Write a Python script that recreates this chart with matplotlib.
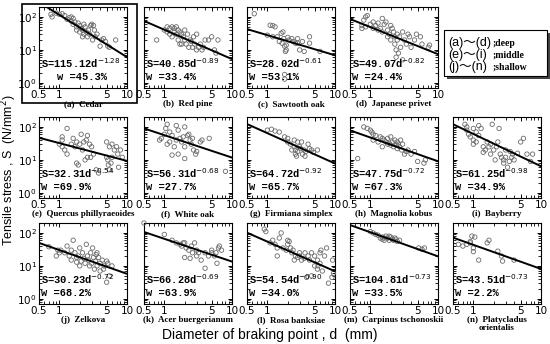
import numpy as np
import matplotlib
matplotlib.use("Agg")
import matplotlib.pyplot as plt
from matplotlib.patches import Rectangle
from matplotlib.ticker import FixedLocator, NullFormatter, LogLocator

# panel labels and fitted power laws S = a * d^-b
letters = ['a', 'b', 'c', 'd', 'e', 'f', 'g', 'h', 'i', 'j', 'k', 'l', 'm', 'n']
names = ['Cedar', 'Red pine', 'Sawtooth oak', 'Japanese privet',
         'Quercus phillyraeoides', 'White oak', 'Firmiana simplex', 'Magnolia kobus', 'Bayberry',
         'Zelkova', 'Acer buergerianum', 'Rosa banksiae', 'Carpinus tschonoskii', 'Platycladus\norientalis']
coef_a = [115.12, 40.85, 28.02, 49.07, 32.31, 56.31, 64.72, 47.75, 61.25, 30.23, 66.28, 54.54, 104.81, 43.51]
coef_b = [1.28, 0.89, 0.61, 0.82, 0.54, 0.68, 0.92, 0.72, 0.98, 0.72, 0.69, 0.90, 0.73, 0.73]
w_pct = ['45.3', '33.4', '53.1', '24.4', '69.9', '27.7', '65.7', '67.3', '34.9', '68.2', '63.9', '34.0', '33.5', '2.2']

d_a = [0.75, 0.78, 0.9, 1.0, 1.1, 1.2, 1.3, 1.4, 1.5, 1.6, 1.6, 1.7, 1.8, 1.8, 1.9, 2.0, 2.0, 2.1, 2.2, 2.3, 2.3,
       2.4, 2.5, 2.6, 2.7, 2.8, 2.9, 3.0, 3.1, 3.2, 3.3, 3.4, 3.6, 4.0, 4.2, 4.5, 4.8, 5.2, 5.5, 6.8, 2.2, 1.5]
s_a = [120, 100, 130, 120, 125, 110, 85, 95, 75, 90, 60, 70, 50, 40, 65, 55, 35, 45, 40, 30, 60,
       50, 35, 25, 40, 30, 55, 60, 20, 55, 40, 25, 30, 13, 20, 22, 18, 13, 12, 20, 25, 100]
d_b = [0.77, 1.0, 1.1, 1.2, 1.2, 1.3, 1.3, 1.4, 1.4, 1.5, 1.5, 1.6, 1.6, 1.7, 1.8, 1.8, 1.9, 2.0, 2.0, 2.1, 2.2,
       2.3, 2.4, 2.5, 2.6, 2.7, 2.8, 3.0, 3.0, 3.2, 3.4, 3.6, 3.8, 4.0, 4.5, 5.0, 5.5, 5.8, 6.2, 1.1, 1.7]
s_b = [20, 40, 35, 45, 30, 50, 25, 45, 35, 50, 30, 40, 20, 35, 30, 15, 25, 40, 20, 15, 30,
       12, 20, 18, 12, 25, 15, 10, 30, 12, 15, 10, 12, 20, 20, 25, 10, 8, 20, 50, 15]
d_c = [0.64, 1.1, 1.2, 1.3, 1.0, 1.2, 1.4, 1.6, 1.7, 1.5, 1.65, 1.75, 1.8, 1.9, 2.0, 2.1, 2.3, 2.4, 2.6, 1.9,
       1.85, 1.8, 1.8, 2.8, 2.8, 3.0, 3.5, 3.3, 4.2, 4.2, 6.0]
s_c = [125, 56, 55, 50, 28, 25, 25, 32, 35, 18, 16, 22, 13, 14, 24, 20, 22, 18, 16, 10,
       9, 1.3, 1.8, 22, 16, 10, 9, 18, 25, 16, 9]
d_d = [0.8, 0.85, 0.9, 0.75, 0.75, 0.85, 1.0, 1.1, 1.1, 1.2, 1.3, 1.3, 1.4, 1.5, 1.6, 1.7, 1.8, 1.8, 1.9, 2.0,
       2.0, 2.1, 2.2, 2.3, 2.3, 2.4, 2.4, 2.5, 2.5, 2.6, 2.7, 2.8, 3.0, 3.0, 3.2, 3.4, 3.6, 3.8, 4.0, 4.5,
       4.8, 5.5, 5.8, 7.2, 7.5, 1.5]
s_d = [80, 100, 110, 55, 45, 50, 60, 70, 45, 55, 65, 40, 45, 35, 60, 70, 40, 25, 30, 55,
       20, 45, 35, 25, 15, 10, 6, 30, 20, 8, 25, 12, 5, 35, 20, 15, 30, 25, 12, 20,
       30, 25, 15, 12, 14, 90]
d_e = [1.3, 1.1, 1.1, 1.0, 1.1, 1.2, 1.3, 1.5, 1.6, 1.7, 1.8, 1.8, 1.9, 2.0, 2.1, 2.2, 2.3, 2.4, 2.5, 2.6,
       2.6, 2.8, 2.9, 3.0, 3.2, 3.5, 3.8, 5.0, 5.2, 5.3, 5.5, 5.5, 5.8, 6.0, 6.0, 6.5, 7.0, 7.3, 7.5, 8.0,
       8.5, 5.0]
s_e = [90, 50, 40, 30, 25, 20, 15, 30, 45, 25, 35, 8, 7, 30, 60, 20, 35, 10, 40, 55,
       12, 30, 12, 25, 15, 5, 4, 35, 10, 7, 5, 25, 8, 30, 12, 20, 25, 15, 6, 20,
       12, 12]
d_f = [0.85, 0.9, 1.0, 1.05, 1.1, 1.2, 1.2, 1.3, 1.3, 1.4, 1.5, 1.5, 1.6, 1.6, 1.7, 1.8, 1.9, 2.0, 2.0, 2.0,
       2.2, 2.3, 2.4, 2.5, 2.6, 2.7, 2.9, 3.0, 3.4, 3.6, 4.6, 8.0, 1.1]
s_f = [40, 45, 60, 90, 120, 70, 35, 55, 14, 25, 40, 110, 80, 15, 45, 35, 50, 100, 25, 11,
       55, 60, 40, 30, 45, 20, 15, 18, 35, 40, 45, 4.5, 30]
d_g = [1.0, 1.15, 1.3, 1.5, 1.8, 2.0, 2.0, 2.2, 2.3, 2.5, 2.5, 2.6, 2.6, 2.7, 2.8, 3.0, 3.1, 3.2, 3.3, 3.5,
       3.7, 4.0, 4.2, 4.5, 4.8, 5.5, 2.8, 3.6]
s_g = [80, 85, 75, 70, 50, 35, 45, 30, 20, 25, 40, 20, 15, 13, 18, 25, 22, 35, 15, 20,
       18, 30, 22, 20, 17, 20, 35, 13]
d_h = [0.65, 0.8, 0.9, 1.0, 1.05, 1.1, 1.1, 1.2, 1.3, 1.4, 1.5, 1.5, 1.6, 1.7, 1.8, 1.8, 1.9, 2.0, 2.1, 2.2,
       2.3, 2.4, 2.5, 2.5, 2.6, 2.7, 2.8, 2.9, 3.0, 3.2, 3.4, 3.6, 4.0, 4.5, 5.0, 6.2, 6.5, 2.0]
s_h = [11, 100, 90, 80, 70, 60, 40, 55, 35, 50, 45, 25, 40, 35, 30, 45, 32, 28, 35, 25,
       40, 28, 35, 22, 30, 25, 40, 20, 30, 15, 18, 20, 15, 18, 9, 8, 10, 50]
d_i = [0.75, 0.8, 0.8, 0.85, 0.9, 1.0, 1.0, 1.0, 1.1, 1.1, 1.2, 1.2, 1.3, 1.4, 1.4, 1.5, 1.6, 1.7, 1.8, 1.8,
       1.9, 2.0, 2.1, 2.2, 2.4, 2.5, 2.6, 2.8, 2.8, 3.0, 3.0, 3.2, 3.4, 3.5, 3.7, 3.8, 4.0, 4.5, 5.0, 5.5,
       6.2, 7.0, 7.5, 2.3]
s_i = [120, 100, 80, 60, 50, 90, 40, 30, 70, 35, 110, 55, 90, 25, 17, 20, 35, 25, 30, 15,
       120, 20, 10, 25, 90, 15, 12, 8, 10, 20, 12, 6, 9, 18, 12, 15, 10, 16, 35, 45,
       15, 9, 15, 35]
d_j = [0.7, 0.9, 0.95, 1.0, 1.05, 1.2, 1.3, 1.4, 1.5, 1.5, 1.6, 1.7, 1.8, 1.8, 1.9, 2.0, 2.0, 2.1, 2.2, 2.3,
       2.4, 2.5, 2.6, 2.7, 2.8, 2.9, 3.0, 3.1, 3.2, 3.3, 3.4, 3.5, 3.6, 3.8, 4.0, 4.0, 4.3, 4.5, 4.6, 5.0,
       5.2, 5.0, 5.5, 6.0, 3.6]
s_j = [38, 20, 30, 25, 30, 25, 40, 20, 30, 15, 60, 25, 13, 18, 20, 35, 10, 14, 25, 17,
       12, 45, 20, 15, 10, 25, 12, 35, 18, 8, 14, 22, 10, 18, 12, 7, 15, 8, 10, 14,
       12, 3.2, 5, 10, 25]
d_k = [0.5, 1.0, 1.3, 1.5, 1.7, 1.8, 1.9, 2.0, 2.0, 2.1, 2.3, 2.4, 2.5, 2.6, 2.8, 3.0, 3.0, 3.2, 3.5, 4.0,
       4.0, 4.5, 5.0, 5.0, 5.5, 6.0, 6.3, 6.5, 7.0, 5.8]
s_k = [200, 90, 60, 50, 45, 40, 50, 50, 18, 35, 30, 17, 40, 25, 50, 30, 20, 25, 15, 8.5,
       25, 20, 30, 25, 20, 12, 35, 40, 30, 25]
d_l = [0.9, 0.95, 1.1, 1.2, 1.3, 1.4, 1.5, 1.6, 1.4, 1.7, 1.9, 2.0, 2.0, 2.1, 2.2, 2.3, 2.4, 2.5, 2.6, 2.8,
       3.0, 3.0, 3.2, 3.5, 3.6, 4.0, 4.2, 4.5, 4.5, 5.0, 5.0, 5.5, 5.5, 5.6, 6.0, 6.0, 6.2, 6.5, 7.0, 7.5,
       8.0, 9.0, 9.5, 9.2, 3.8]
s_l = [130, 110, 50, 60, 45, 35, 70, 100, 20, 35, 30, 60, 45, 55, 35, 25, 30, 15, 20, 18,
       20, 25, 15, 17, 25, 20, 15, 25, 5, 20, 10, 15, 8, 10, 12, 25, 30, 7, 20, 35,
       3, 4.5, 6, 15, 4.5]
d_m = [1.0, 1.1, 1.2, 1.3, 1.4, 1.5, 1.5, 1.6, 1.7, 1.8, 1.9, 2.0, 2.1, 2.2, 2.3, 2.5, 2.7, 1.6, 1.9, 2.4,
       5.2, 5.8, 6.3]
s_m = [110, 100, 90, 85, 70, 65, 75, 60, 80, 70, 60, 75, 65, 60, 70, 55, 60, 70, 80, 65,
       35, 32, 35]
d_n = [0.6, 0.7, 0.8, 0.9, 0.95, 0.9, 1.0, 1.0, 1.05, 1.2, 1.6, 1.7, 2.3, 2.6, 2.7, 4.0]
s_n = [45, 40, 45, 55, 80, 50, 35, 27, 75, 15, 50, 60, 28, 20, 14, 15]

d_all = [d_a, d_b, d_c, d_d, d_e, d_f, d_g, d_h, d_i, d_j, d_k, d_l, d_m, d_n]
s_all = [s_a, s_b, s_c, s_d, s_e, s_f, s_g, s_h, s_i, s_j, s_k, s_l, s_m, s_n]

W, H = 550, 344
fig = plt.figure(figsize=(W / 100, H / 100), dpi=100)

col_left = [39, 144, 247, 350, 453]
row_top = [7, 117, 223]
ax_w, ax_h = 88, 81

# grid slots: first row has 4 panels, the 5th slot holds the legend box
slots = [(0, 0), (0, 1), (0, 2), (0, 3),
         (1, 0), (1, 1), (1, 2), (1, 3), (1, 4),
         (2, 0), (2, 1), (2, 2), (2, 3), (2, 4)]

mono = 'Liberation Mono'
serif = 'Liberation Serif'

for k, (r, c) in enumerate(slots):
    x0 = col_left[c] / W
    y0 = 1 - (row_top[r] + ax_h) / H
    ax = fig.add_axes([x0, y0, ax_w / W, ax_h / H])
    ax.set_xscale('log')
    ax.set_yscale('log')
    ax.set_xlim(0.5, 10)
    ax.set_ylim(0.7, 200)

    ax.scatter(d_all[k], s_all[k], s=10, facecolors='none', edgecolors='#6a6a6a',
               linewidths=0.6, clip_on=False, zorder=3)
    dl = np.array([0.5, 10])
    ax.plot(dl, coef_a[k] * dl ** (-coef_b[k]), color='black', lw=1.4, zorder=4)

    ax.xaxis.set_major_locator(FixedLocator([0.5, 1, 5, 10]))
    ax.set_xticklabels(['0.5', '1', '5', '10'])
    ax.xaxis.set_minor_locator(FixedLocator([0.6, 0.7, 0.8, 0.9, 2, 3, 4, 6, 7, 8, 9]))
    ax.xaxis.set_minor_formatter(NullFormatter())
    ax.yaxis.set_major_locator(FixedLocator([1, 10, 100]))
    ax.yaxis.set_minor_locator(LogLocator(base=10, subs=np.arange(2, 10)))
    ax.yaxis.set_minor_formatter(NullFormatter())
    ax.tick_params(which='both', direction='in', top=True, right=True, labelsize=7.5, pad=1.5)
    ax.tick_params(which='major', length=3, width=0.7)
    ax.tick_params(which='minor', length=2, width=0.6)
    if c != 0:
        ax.set_yticklabels([])
    for sp in ax.spines.values():
        sp.set_linewidth(0.8)

    eq = 'S=%.2fd$^{-%.2f}$' % (coef_a[k], coef_b[k])
    ax.text(0.02, 0.31, eq, transform=ax.transAxes, fontsize=7.5, family=mono,
            fontweight='bold', va='center', ha='left', zorder=5)
    wx = 0.2 if k == 0 else 0.02
    ax.text(wx, 0.13, 'w =' + w_pct[k] + '%', transform=ax.transAxes, fontsize=7.5,
            family=mono, fontweight='bold', va='center', ha='left', zorder=5)

    ax.text(0.5, -0.15, '(' + letters[k] + ')  ' + names[k], transform=ax.transAxes,
            fontsize=6.5, family=serif, fontweight='bold', ha='center', va='top',
            linespacing=1.0)

# frame around panel (a)
fig.add_artist(Rectangle((22 / W, 1 - 103 / H), 115 / W, 99 / H, transform=fig.transFigure,
                         fill=False, edgecolor='black', lw=1.2))

# legend box with shadow
lx, ly, lw_, lh = 444, 30, 103, 46
fig.add_artist(Rectangle(((lx + 3) / W, 1 - (ly + lh + 3) / H), lw_ / W, lh / H,
                         transform=fig.transFigure, facecolor='#444444', edgecolor='none'))
fig.add_artist(Rectangle((lx / W, 1 - (ly + lh) / H), lw_ / W, lh / H, transform=fig.transFigure,
                         facecolor='white', edgecolor='black', lw=0.8))
groups = ['(a)〜(d)', '(e)〜(i)', '(j)〜(n)']
depths = [';deep', ';middle', ';shallow']
for i in range(3):
    yy = 1 - (43 + i * 12) / H
    fig.text((lx + 4) / W, yy, groups[i], fontsize=9, family=['Liberation Sans', 'Noto Sans CJK JP'],
             va='center', ha='left')
    fig.text((lx + 48) / W, yy, depths[i], fontsize=7, family=serif, fontweight='bold',
             va='center', ha='left')

fig.text(9 / W, 1 - 170 / H, 'Tensile stress , S  (N/mm$^2$)', rotation=90, fontsize=9,
         family='Liberation Sans', ha='center', va='center')
fig.text(270 / W, 1 - 335 / H, 'Diameter of braking point , d  (mm)', fontsize=10,
         family='Liberation Sans', ha='center', va='center')

fig.savefig('out.png', dpi=100)
